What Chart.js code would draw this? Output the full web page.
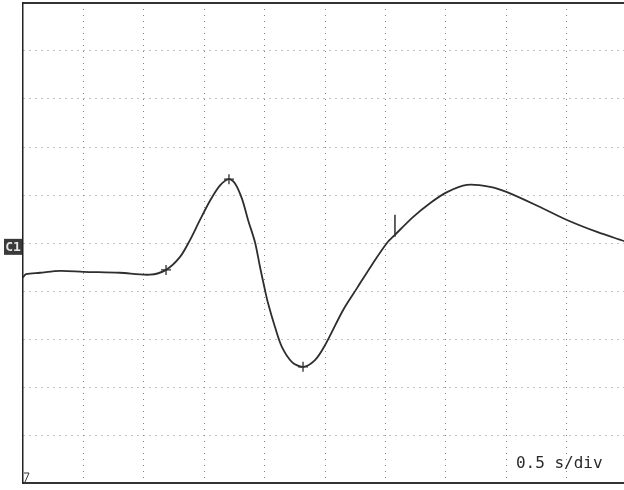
<!DOCTYPE html>
<html>
<head>
<meta charset="utf-8">
<script src="https://cdn.jsdelivr.net/npm/chart.js@4/dist/chart.umd.min.js"></script>
<style>
  html, body { margin: 0; padding: 0; background: #fff; }
  #wrap { width: 624px; height: 490px; position: relative; }
</style>
</head>
<body>
<div id="wrap"><canvas id="scope"></canvas></div>
<script>
// time axis in seconds (0.5 s per division), amplitude in divisions
const timeS = [0, 0.025, 0.14, 0.31, 0.5, 0.8, 1.05, 1.184, 1.3, 1.382, 1.465, 1.548, 1.631, 1.705,
  1.755, 1.813, 1.863, 1.92, 1.962, 2.003, 2.028, 2.086, 2.144, 2.227, 2.318, 2.417, 2.5,
  2.649, 2.765, 2.897, 3.013, 3.079, 3.228, 3.369, 3.51, 3.675, 3.866, 4.007, 4.28, 4.503,
  4.752, 4.975];
const traceDiv = [-0.72, -0.65, -0.62, -0.58, -0.6, -0.62, -0.66, -0.56, -0.29, 0.06, 0.48, 0.88, 1.2, 1.33,
  1.24, 0.92, 0.48, 0.02, -0.5, -0.98, -1.25, -1.75, -2.17, -2.48, -2.58, -2.44, -2.13,
  -1.4, -0.94, -0.42, 0, 0.17, 0.54, 0.83, 1.06, 1.21, 1.17, 1.06, 0.75, 0.48,
  0.23, 0.04];

// cursor marks left on the trace
const crossTime = [1.184, 1.705, 2.318];
const crossDiv = [-0.56, 1.33, -2.58];
const tickTime = [3.079];
const tickDiv = [0.36];

const xTicks = [0, 0.5, 1, 1.5, 2, 2.5, 3, 3.5, 4, 4.5];
const yTicks = [-5, -4, -3, -2, -1, 0, 1, 2, 3, 4, 5];
const groundDiv = -0.08;
const timebase = '0.5 s/div';

const toPts = (xs, ys) => xs.map((x, i) => ({ x: x, y: ys[i] }));

const scopeDecor = {
  id: 'scopeDecor',
  afterDraw(chart) {
    const { ctx, chartArea, scales } = chart;
    ctx.save();
    // channel ground marker
    const gy = scales.y.getPixelForValue(groundDiv);
    ctx.fillStyle = '#3a3a3a';
    ctx.fillRect(chartArea.left - 19, gy - 8, 18, 16);
    ctx.fillStyle = '#e8e8e8';
    ctx.font = 'bold 13px "DejaVu Sans Mono"';
    ctx.textAlign = 'center';
    ctx.textBaseline = 'middle';
    ctx.fillText('C1', chartArea.left - 10, gy + 1);
    // trigger marker
    ctx.strokeStyle = '#333';
    ctx.lineWidth = 1;
    ctx.beginPath();
    ctx.moveTo(chartArea.left + 1, chartArea.bottom - 10);
    ctx.lineTo(chartArea.left + 6, chartArea.bottom - 10);
    ctx.lineTo(chartArea.left + 2, chartArea.bottom - 1);
    ctx.stroke();
    // timebase readout
    ctx.fillStyle = '#2a2a2a';
    ctx.font = '16px "DejaVu Sans Mono"';
    ctx.textAlign = 'left';
    ctx.fillText(timebase, scales.x.getPixelForValue(4.08), scales.y.getPixelForValue(-4.6));
    ctx.restore();
  }
};

new Chart(document.getElementById('scope').getContext('2d'), {
  type: 'line',
  data: {
    datasets: [{
      data: toPts(timeS, traceDiv),
      borderColor: '#2e2e2e',
      borderWidth: 1.8,
      pointRadius: 0,
      tension: 0.3,
      fill: false
    }, {
      data: toPts(crossTime, crossDiv),
      showLine: false,
      pointStyle: 'cross',
      pointRadius: 5,
      borderColor: '#2e2e2e',
      borderWidth: 1.3
    }, {
      data: toPts(tickTime, tickDiv),
      showLine: false,
      pointStyle: 'line',
      rotation: 90,
      pointRadius: 11,
      borderColor: '#2e2e2e',
      borderWidth: 1.5
    }]
  },
  options: {
    responsive: true,
    maintainAspectRatio: false,
    animation: false,
    layout: { autoPadding: false, padding: { left: 23, top: 3, right: 0, bottom: 7 } },
    plugins: { legend: { display: false }, tooltip: { enabled: false } },
    scales: {
      x: {
        type: 'linear',
        min: 0,
        max: 4.975,
        afterBuildTicks: (s) => { s.ticks = xTicks.map(v => ({ value: v })); },
        ticks: { display: false },
        grid: {
          drawTicks: false,
          color: (c) => c.tick && c.tick.value === 0 ? 'rgba(0,0,0,0)' : '#858585'
        },
        border: { display: true, color: '#333', width: 2, dash: [1, 5] }
      },
      xTop: {
        type: 'linear',
        position: 'top',
        min: 0,
        max: 4.975,
        ticks: { display: false },
        grid: { display: false, drawTicks: false },
        border: { display: true, color: '#333', width: 2 }
      },
      y: {
        type: 'linear',
        min: -5,
        max: 5,
        afterBuildTicks: (s) => { s.ticks = yTicks.map(v => ({ value: v })); },
        ticks: { display: false },
        grid: {
          drawTicks: false,
          color: (c) => c.tick && Math.abs(c.tick.value) === 5 ? 'rgba(0,0,0,0)' : '#858585'
        },
        border: { display: true, color: '#222', width: 1.5, dash: [1, 5] }
      }
    }
  },
  plugins: [scopeDecor]
});
</script>
</body>
</html>
